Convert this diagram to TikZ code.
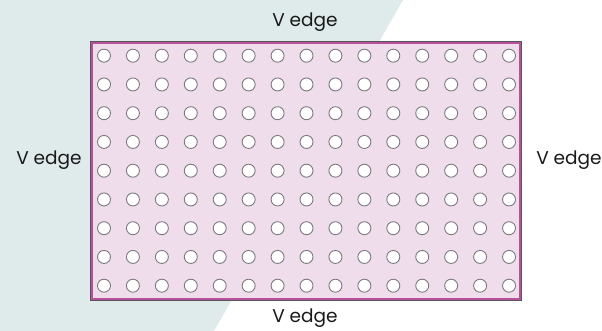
\documentclass[tikz,border=0pt]{standalone}
\usepackage{fontspec}
\setmainfont{Poppins}
\definecolor{bgteal}{HTML}{DFEAEA}
\definecolor{boardpink}{HTML}{EFDDEC}
\definecolor{framepink}{HTML}{B8519A}
\definecolor{framegray}{HTML}{55555A}
\definecolor{holegray}{HTML}{7A7A7E}
\begin{document}
\begin{tikzpicture}[x=1pt, y=-1pt,
    hole/.style={circle, draw=holegray, fill=white, line width=0.9pt, minimum size=13pt, inner sep=0pt},
    edgelabel/.style={font=\fontsize{18.5}{22}\selectfont, text=black!90, inner sep=0pt}]
    % Fix the page size
    \useasboundingbox (0,0) rectangle (602,331);

    % Draw the background
    \fill[bgteal] (0,0) -- (403,0) -- (214,331) -- (0,331) -- cycle;

    % Draw the board
    \filldraw[fill=boardpink, draw=framepink, line width=3pt] (91,43) rectangle (520.5,299.5);
    \draw[framegray, line width=0.8pt] (89.9,41.9) rectangle (521.6,300.6);

    % Draw the holes
    \foreach \i in {0,...,14}
        \foreach \j in {0,...,8}
            \node[hole] (h-\i-\j) at ({104+28.93*\i},{55.7+28.75*\j}) {};

    % Label the edges
    \node[edgelabel] (top) at (305,22) {V edge};
    \node[edgelabel] (bottom) at (305,318) {V edge};
    \node[edgelabel] (left) at (49,160) {V edge};
    \node[edgelabel] (right) at (569,160) {V edge};
\end{tikzpicture}
\end{document}
